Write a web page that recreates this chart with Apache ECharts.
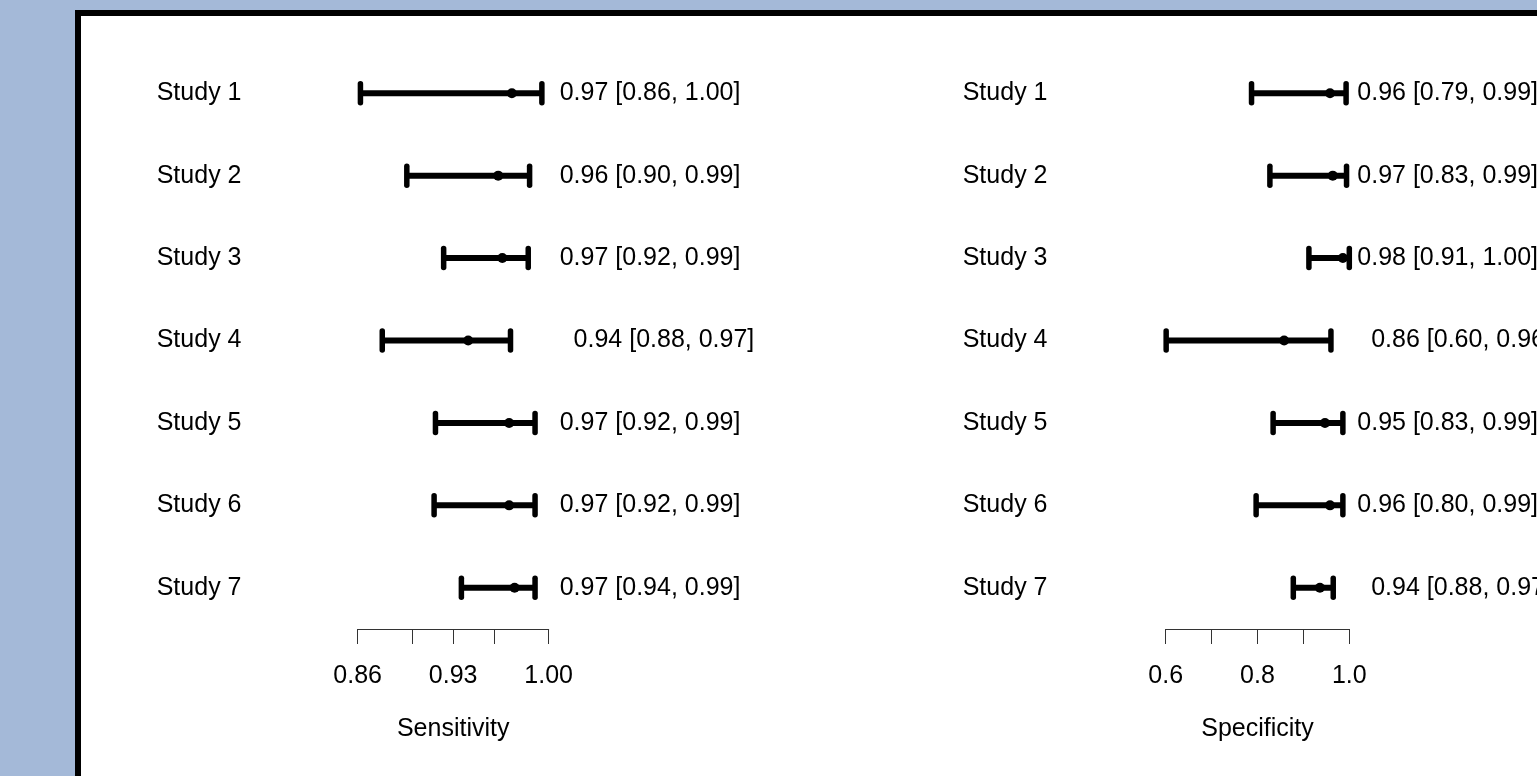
<!DOCTYPE html>
<html>
<head>
<meta charset="utf-8">
<script src="https://cdn.jsdelivr.net/npm/echarts@6/dist/echarts.min.js"></script>
<style>
html,body{margin:0;padding:0;background:#a4b9d8;}
#chart{width:1537px;height:776px;}
</style>
</head>
<body>
<div id="chart"></div>
<script>
// ---- data ----
const studies = ['Study 1', 'Study 2', 'Study 3', 'Study 4', 'Study 5', 'Study 6', 'Study 7'];

const sensLow  = [0.862, 0.896, 0.923, 0.878, 0.917, 0.916, 0.936];
const sensEst  = [0.973, 0.963, 0.966, 0.941, 0.971, 0.971, 0.975];
const sensHigh = [0.995, 0.986, 0.985, 0.972, 0.990, 0.990, 0.990];
const sensText = ['0.97 [0.86, 1.00]', '0.96 [0.90, 0.99]', '0.97 [0.92, 0.99]', '  0.94 [0.88, 0.97]',
                  '0.97 [0.92, 0.99]', '0.97 [0.92, 0.99]', '0.97 [0.94, 0.99]'];

const specLow  = [0.787, 0.827, 0.912, 0.601, 0.834, 0.797, 0.878];
const specEst  = [0.958, 0.964, 0.986, 0.858, 0.947, 0.958, 0.936];
const specHigh = [0.993, 0.994, 1.000, 0.960, 0.986, 0.986, 0.965];
const specText = ['0.96 [0.79, 0.99]', '0.97 [0.83, 0.99]', '0.98 [0.91, 1.00]', '  0.86 [0.60, 0.96]',
                  '0.95 [0.83, 0.99]', '0.96 [0.80, 0.99]', '  0.94 [0.88, 0.97]'];

const sensTicks  = [0.86, 0.90, 0.93, 0.96, 1.00];
const sensLabels = [0.86, 0.93, 1.00];
const specTicks  = [0.6, 0.7, 0.8, 0.9, 1.0];
const specLabels = [0.6, 0.8, 1.0];

// ---- chart ----
const FONT = 'Liberation Sans, Arial, sans-serif';
const FS = 25;
const chart = echarts.init(document.getElementById('chart'));

function rows(low, est, high) {
  return studies.map((s, i) => [i, low[i], est[i], high[i]]);
}

function renderItem(params, api) {
  const y = api.value(0);
  const pL = api.coord([api.value(1), y]);
  const pE = api.coord([api.value(2), y]);
  const pH = api.coord([api.value(3), y]);
  const capH = 9.5;
  return {
    type: 'group',
    children: [
      { type: 'line', shape: { x1: pL[0], y1: pL[1], x2: pH[0], y2: pH[1] },
        style: { stroke: '#000', lineWidth: 6 } },
      { type: 'line', shape: { x1: pL[0], y1: pL[1] - capH, x2: pL[0], y2: pL[1] + capH },
        style: { stroke: '#000', lineWidth: 5.5, lineCap: 'round' } },
      { type: 'line', shape: { x1: pH[0], y1: pH[1] - capH, x2: pH[0], y2: pH[1] + capH },
        style: { stroke: '#000', lineWidth: 5.5, lineCap: 'round' } },
      { type: 'circle', shape: { cx: pE[0], cy: pE[1], r: 5 }, style: { fill: '#000' } }
    ]
  };
}

function xAxisFor(idx, min, max, ticks, labels, digits, name) {
  return {
    type: 'value', gridIndex: idx, min: min, max: max,
    axisLine: { show: true, lineStyle: { color: '#333', width: 1 } },
    axisTick: { show: true, length: 15, lineStyle: { color: '#333', width: 1 }, customValues: ticks },
    axisLabel: { customValues: labels, formatter: v => v.toFixed(digits), fontSize: FS,
                 fontFamily: FONT, color: '#000', margin: 35 },
    splitLine: { show: false },
    name: name, nameLocation: 'middle', nameGap: 88,
    nameTextStyle: { fontSize: FS, fontFamily: FONT, color: '#000' }
  };
}

function yAxesFor(idx, text, leftMargin, rightMargin) {
  return [
    { type: 'category', gridIndex: idx, data: studies, inverse: true,
      axisLine: { show: false }, axisTick: { show: false }, splitLine: { show: false },
      axisLabel: { margin: leftMargin, align: 'left', fontSize: FS, fontFamily: FONT, color: '#000' } },
    { type: 'category', gridIndex: idx, data: text, inverse: true, position: 'right',
      axisLine: { show: false }, axisTick: { show: false }, splitLine: { show: false },
      axisLabel: { margin: rightMargin, align: 'left', fontSize: FS, fontFamily: FONT, color: '#000' } }
  ];
}

const option = {
  backgroundColor: '#a4b9d8',
  animation: false,
  graphic: [
    { type: 'rect', z: -10, shape: { x: 78, y: 13, width: 1600, height: 900 },
      style: { fill: '#fff', stroke: '#000', lineWidth: 6 } }
  ],
  grid: [
    { left: 357.7, width: 191, top: 52, height: 577, outerBoundsMode: 'none', containLabel: false },
    { left: 1165.7, width: 183.6, top: 52, height: 577, outerBoundsMode: 'none', containLabel: false }
  ],
  xAxis: [
    xAxisFor(0, 0.86, 1.00, sensTicks, sensLabels, 2, 'Sensitivity'),
    xAxisFor(1, 0.6, 1.0, specTicks, specLabels, 1, 'Specificity')
  ],
  yAxis: [].concat(yAxesFor(0, sensText, 201, 11), yAxesFor(1, specText, 203, 8)),
  series: [
    { type: 'custom', xAxisIndex: 0, yAxisIndex: 0, renderItem: renderItem,
      encode: { x: [1, 2, 3], y: 0 }, data: rows(sensLow, sensEst, sensHigh) },
    { type: 'custom', xAxisIndex: 1, yAxisIndex: 2, renderItem: renderItem,
      encode: { x: [1, 2, 3], y: 0 }, data: rows(specLow, specEst, specHigh) }
  ]
};
chart.setOption(option);
</script>
</body>
</html>
